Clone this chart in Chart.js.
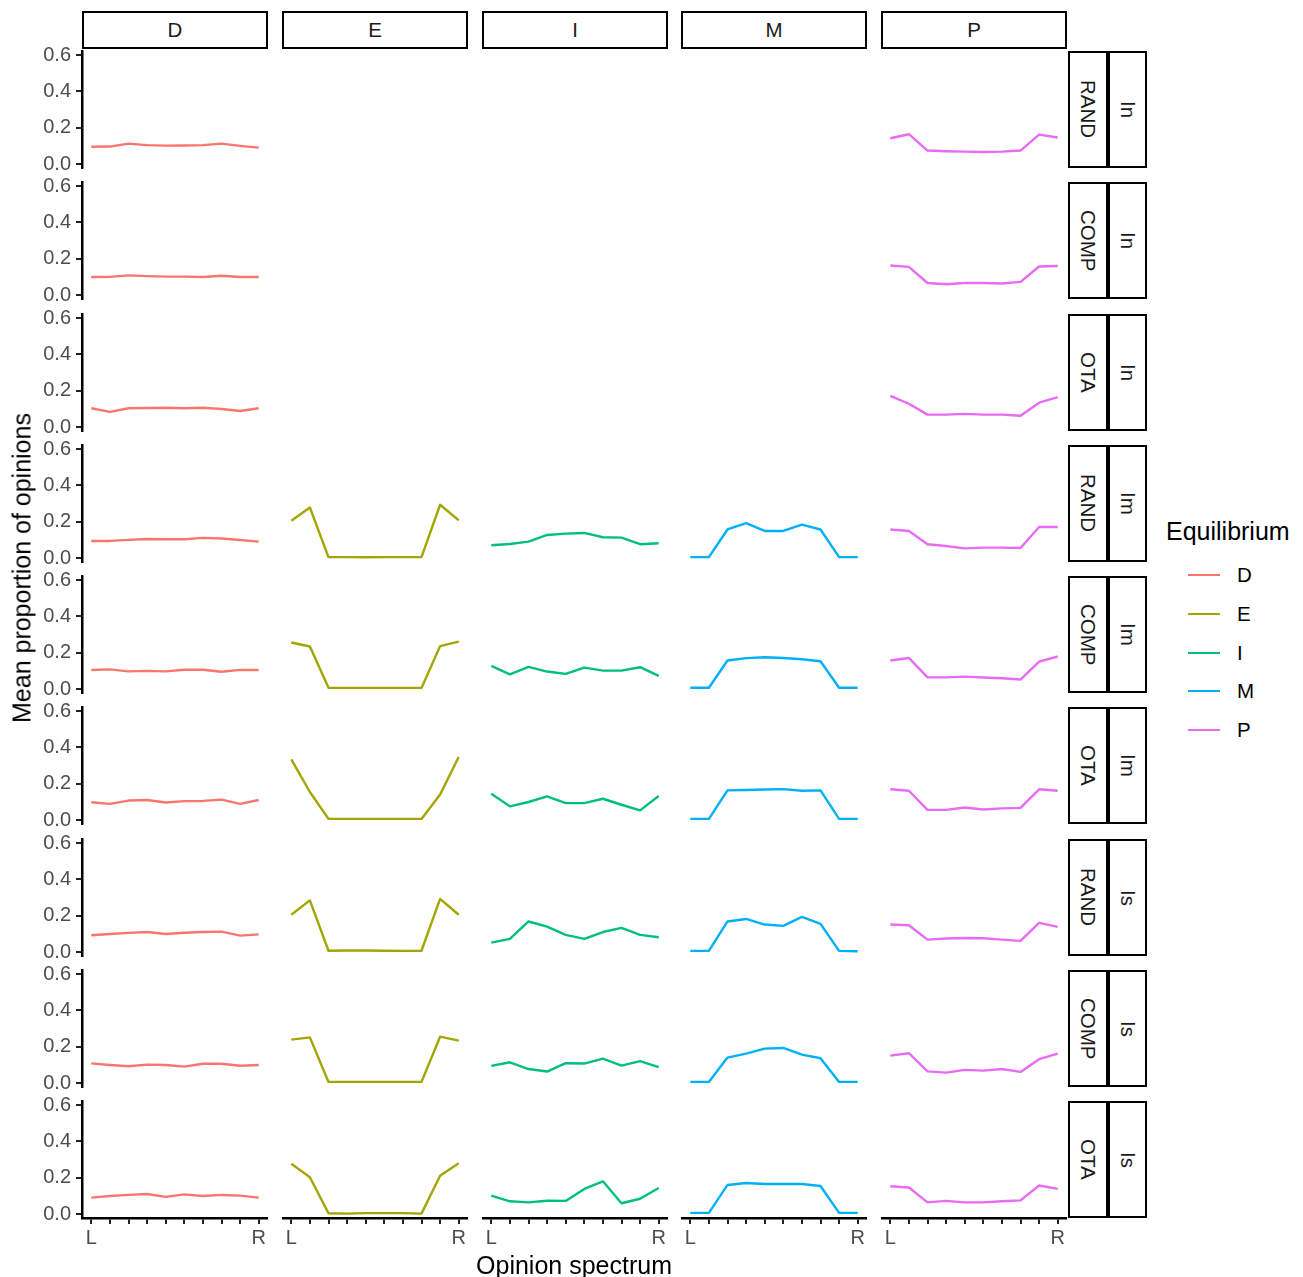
<!DOCTYPE html>
<html>
<head>
<meta charset="utf-8">
<script src="https://cdn.jsdelivr.net/npm/chart.js@4.4.1/dist/chart.umd.min.js"></script>
<style>
  body { margin: 0; background: #fff; }
  #fig { position: relative; width: 1303px; height: 1277px; overflow: hidden;
         font-family: "Liberation Sans", Arial, sans-serif; }
  .strip { position: absolute; box-sizing: border-box; border: 2px solid #000; background: #fff;
           color: #1a1a1a; font-size: 20.5px; display: flex; align-items: center; justify-content: center; }
  .vert { writing-mode: vertical-rl; }
  .txt { position: absolute; white-space: nowrap; }
  canvas { position: absolute; }
</style>
</head>
<body>
<div id="fig"></div>
<script>
// facets and axes
const positions = [1, 2, 3, 4, 5, 6, 7, 8, 9, 10];
const xTickLabels = ['L', '', '', '', '', '', '', '', '', 'R'];
const yTicks = [0, 0.2, 0.4, 0.6];
const equilibria = ['D', 'E', 'I', 'M', 'P'];
const lineColors = ['#F8766D', '#A3A500', '#00BF7D', '#00B0F6', '#E76BF3'];
const strategies = ['RAND', 'COMP', 'OTA'];
const groups = ['In', 'Im', 'Is'];

// mean proportion of opinions, L..R, one array per panel
const D_RAND_In = [0.095, 0.096, 0.112, 0.104, 0.101, 0.102, 0.104, 0.112, 0.100, 0.090];
const D_COMP_In = [0.099, 0.100, 0.108, 0.104, 0.101, 0.101, 0.099, 0.106, 0.099, 0.099];
const D_OTA_In  = [0.103, 0.083, 0.103, 0.105, 0.106, 0.103, 0.106, 0.099, 0.088, 0.103];
const D_RAND_Im = [0.094, 0.094, 0.100, 0.105, 0.103, 0.103, 0.111, 0.107, 0.099, 0.090];
const D_COMP_Im = [0.105, 0.108, 0.097, 0.100, 0.097, 0.106, 0.106, 0.095, 0.105, 0.105];
const D_OTA_Im  = [0.098, 0.089, 0.107, 0.110, 0.096, 0.104, 0.105, 0.112, 0.089, 0.110];
const D_RAND_Is = [0.092, 0.099, 0.105, 0.110, 0.099, 0.106, 0.110, 0.112, 0.090, 0.097];
const D_COMP_Is = [0.108, 0.099, 0.092, 0.101, 0.099, 0.090, 0.106, 0.106, 0.095, 0.099];
const D_OTA_Is  = [0.090, 0.099, 0.105, 0.110, 0.094, 0.108, 0.099, 0.105, 0.101, 0.090];

const E_RAND_Im = [0.205, 0.278, 0.005, 0.005, 0.004, 0.005, 0.005, 0.005, 0.293, 0.208];
const E_COMP_Im = [0.256, 0.234, 0.007, 0.006, 0.006, 0.006, 0.006, 0.006, 0.236, 0.261];
const E_OTA_Im  = [0.334, 0.154, 0.006, 0.006, 0.006, 0.006, 0.006, 0.006, 0.140, 0.347];
const E_RAND_Is = [0.205, 0.284, 0.007, 0.008, 0.008, 0.007, 0.006, 0.007, 0.292, 0.205];
const E_COMP_Is = [0.239, 0.251, 0.006, 0.006, 0.006, 0.006, 0.006, 0.006, 0.255, 0.233];
const E_OTA_Is  = [0.277, 0.202, 0.004, 0.002, 0.005, 0.005, 0.005, 0.002, 0.211, 0.279];

const I_RAND_Im = [0.070, 0.077, 0.090, 0.127, 0.134, 0.138, 0.114, 0.112, 0.076, 0.081];
const I_COMP_Im = [0.127, 0.081, 0.122, 0.096, 0.083, 0.118, 0.101, 0.101, 0.120, 0.072];
const I_OTA_Im  = [0.145, 0.075, 0.099, 0.130, 0.093, 0.093, 0.117, 0.084, 0.053, 0.132];
const I_RAND_Is = [0.052, 0.072, 0.168, 0.140, 0.094, 0.072, 0.110, 0.133, 0.094, 0.081];
const I_COMP_Is = [0.094, 0.114, 0.077, 0.063, 0.109, 0.107, 0.134, 0.096, 0.120, 0.087];
const I_OTA_Is  = [0.101, 0.070, 0.064, 0.073, 0.072, 0.138, 0.180, 0.059, 0.084, 0.143];

const M_RAND_Im = [0.005, 0.005, 0.157, 0.192, 0.149, 0.149, 0.184, 0.157, 0.005, 0.005];
const M_COMP_Im = [0.007, 0.007, 0.157, 0.170, 0.175, 0.171, 0.164, 0.153, 0.007, 0.007];
const M_OTA_Im  = [0.006, 0.006, 0.163, 0.165, 0.168, 0.170, 0.161, 0.163, 0.006, 0.006];
const M_RAND_Is = [0.006, 0.006, 0.168, 0.182, 0.151, 0.144, 0.193, 0.155, 0.006, 0.004];
const M_COMP_Is = [0.006, 0.006, 0.140, 0.162, 0.189, 0.193, 0.156, 0.136, 0.006, 0.006];
const M_OTA_Is  = [0.006, 0.006, 0.160, 0.171, 0.165, 0.165, 0.165, 0.154, 0.006, 0.006];

const P_RAND_In = [0.142, 0.164, 0.074, 0.070, 0.068, 0.066, 0.068, 0.074, 0.162, 0.146];
const P_COMP_In = [0.162, 0.155, 0.066, 0.059, 0.066, 0.066, 0.063, 0.072, 0.157, 0.160];
const P_OTA_In  = [0.171, 0.128, 0.068, 0.068, 0.072, 0.068, 0.068, 0.062, 0.134, 0.165];
const P_RAND_Im = [0.157, 0.149, 0.076, 0.066, 0.053, 0.057, 0.057, 0.055, 0.171, 0.171];
const P_COMP_Im = [0.157, 0.171, 0.064, 0.064, 0.068, 0.063, 0.059, 0.052, 0.151, 0.179];
const P_OTA_Im  = [0.169, 0.161, 0.056, 0.056, 0.069, 0.058, 0.064, 0.067, 0.169, 0.161];
const P_RAND_Is = [0.151, 0.147, 0.068, 0.074, 0.077, 0.076, 0.068, 0.061, 0.160, 0.138];
const P_COMP_Is = [0.151, 0.164, 0.064, 0.057, 0.072, 0.068, 0.077, 0.061, 0.131, 0.162];
const P_OTA_Is  = [0.153, 0.146, 0.064, 0.072, 0.064, 0.064, 0.070, 0.075, 0.157, 0.138];

// lookup by "EQ_STRATEGY_GROUP" (E, I, M have no "In" panels)
const panelData = {
  D_RAND_In, D_COMP_In, D_OTA_In, D_RAND_Im, D_COMP_Im, D_OTA_Im, D_RAND_Is, D_COMP_Is, D_OTA_Is,
  E_RAND_Im, E_COMP_Im, E_OTA_Im, E_RAND_Is, E_COMP_Is, E_OTA_Is,
  I_RAND_Im, I_COMP_Im, I_OTA_Im, I_RAND_Is, I_COMP_Is, I_OTA_Is,
  M_RAND_Im, M_COMP_Im, M_OTA_Im, M_RAND_Is, M_COMP_Is, M_OTA_Is,
  P_RAND_In, P_COMP_In, P_OTA_In, P_RAND_Im, P_COMP_Im, P_OTA_Im, P_RAND_Is, P_COMP_Is, P_OTA_Is
};

// layout (px)
const FONT = '"Liberation Sans", Arial, sans-serif';
const TICK_SIZE = 20;
const PX0 = 82, PW = 186, COLSTEP = 199.75;
const PY0 = 51, PH = 117, ROWSTEP = 131.25;
const YAXIS_W = 62, XAXIS_H = 40;
const LABEL_ROOM = 12;   // canvas overhang so end tick labels are not cut off

const fig = document.getElementById('fig');

function addText(text, x, y, size, color, extra) {
  const d = document.createElement('div');
  d.className = 'txt';
  d.textContent = text;
  d.style.left = x + 'px';
  d.style.top = y + 'px';
  d.style.fontSize = size + 'px';
  d.style.lineHeight = size + 'px';
  d.style.color = color;
  d.style.transform = extra || 'translate(-50%, -50%)';
  fig.appendChild(d);
  return d;
}

function addStrip(text, left, top, w, h, vertical) {
  const d = document.createElement('div');
  d.className = 'strip';
  d.style.left = left + 'px';
  d.style.top = top + 'px';
  d.style.width = w + 'px';
  d.style.height = h + 'px';
  const s = document.createElement('span');
  s.textContent = text;
  if (vertical) s.className = 'vert';
  d.appendChild(s);
  fig.appendChild(d);
}

// no label overhang padding, so every chart area is exactly the panel box
function noPadding(sc) {
  sc.paddingTop = 0; sc.paddingBottom = 0; sc.paddingLeft = 0; sc.paddingRight = 0;
}

const rows = [];
groups.forEach(g => strategies.forEach(s => rows.push([s, g])));

// column strips
equilibria.forEach((eq, c) => {
  addStrip(eq, Math.round(PX0 + c * COLSTEP), 11, PW, 38, false);
});

// row strips
rows.forEach(([s, g], r) => {
  const top = Math.round(PY0 + r * ROWSTEP);
  addStrip(s, 1068, top, 40, PH, true);
  addStrip(g, 1108, top, 39, PH, true);
});

// panels
rows.forEach(([s, g], r) => {
  equilibria.forEach((eq, c) => {
    const values = panelData[eq + '_' + s + '_' + g];
    if (!values) return;
    const showY = c === 0;
    const showX = r === rows.length - 1;
    const padTop = showY ? LABEL_ROOM : 0;
    const padBottom = showY && !showX ? LABEL_ROOM : 0;
    const left = Math.round(PX0 + c * COLSTEP) - (showY ? YAXIS_W : 0);
    const top = Math.round(PY0 + r * ROWSTEP) - padTop;
    const w = PW + (showY ? YAXIS_W : 0);
    const h = PH + (showX ? XAXIS_H : 0) + padTop + padBottom;

    const cv = document.createElement('canvas');
    cv.width = w; cv.height = h;
    cv.style.left = left + 'px';
    cv.style.top = top + 'px';
    cv.style.width = w + 'px';
    cv.style.height = h + 'px';
    fig.appendChild(cv);

    new Chart(cv, {
      type: 'line',
      data: {
        datasets: [{
          data: positions.map((x, i) => ({ x, y: values[i] })),
          borderColor: lineColors[c],
          borderWidth: 2.4,
          borderJoinStyle: 'round',
          pointRadius: 0,
          tension: 0,
          fill: false
        }]
      },
      options: {
        responsive: false,
        animation: false,
        devicePixelRatio: 1,
        events: [],
        layout: { padding: { top: padTop, bottom: padBottom, left: 0, right: 0 } },
        plugins: { legend: { display: false }, tooltip: { enabled: false } },
        scales: {
          x: {
            type: 'linear',
            min: 0.5,
            max: 10.5,
            display: showX,
            afterBuildTicks: sc => { sc.ticks = positions.map(v => ({ value: v })); },
            afterFit: sc => { if (showX) sc.height = XAXIS_H; noPadding(sc); },
            grid: { drawOnChartArea: false, drawTicks: true, tickLength: 6, color: '#222', lineWidth: 2 },
            border: { display: true, color: '#000', width: 2.5 },
            ticks: {
              autoSkip: false, maxRotation: 0, padding: 2, color: '#4d4d4d',
              font: { size: TICK_SIZE, family: FONT },
              callback: v => xTickLabels[positions.indexOf(v)] || ''
            }
          },
          y: {
            type: 'linear',
            min: -0.022,
            max: 0.622,
            display: showY,
            afterBuildTicks: sc => { sc.ticks = yTicks.map(v => ({ value: v })); },
            afterFit: sc => { if (showY) sc.width = YAXIS_W; noPadding(sc); },
            grid: { drawOnChartArea: false, drawTicks: true, tickLength: 6, color: '#222', lineWidth: 2 },
            border: { display: true, color: '#000', width: 2.5 },
            ticks: {
              autoSkip: false, padding: 5, color: '#4d4d4d',
              font: { size: TICK_SIZE, family: FONT },
              callback: v => v.toFixed(1)
            }
          }
        }
      }
    });
  });
});

// axis titles
addText('Mean proportion of opinions', 22, 568, 25, '#000', 'translate(-50%, -50%) rotate(-90deg)');
addText('Opinion spectrum', 574, 1265, 25, '#000');

// legend
addText('Equilibrium', 1166, 531, 25, '#000', 'translate(0, -50%)');
equilibria.forEach((eq, i) => {
  const yc = Math.round(575 + i * 38.75);
  const ln = document.createElement('div');
  ln.style.position = 'absolute';
  ln.style.left = '1188px';
  ln.style.top = (yc - 1) + 'px';
  ln.style.width = '32px';
  ln.style.height = '2px';
  ln.style.background = lineColors[i];
  fig.appendChild(ln);
  addText(eq, 1237, yc, 20.5, '#000', 'translate(0, -50%)');
});
</script>
</body>
</html>
